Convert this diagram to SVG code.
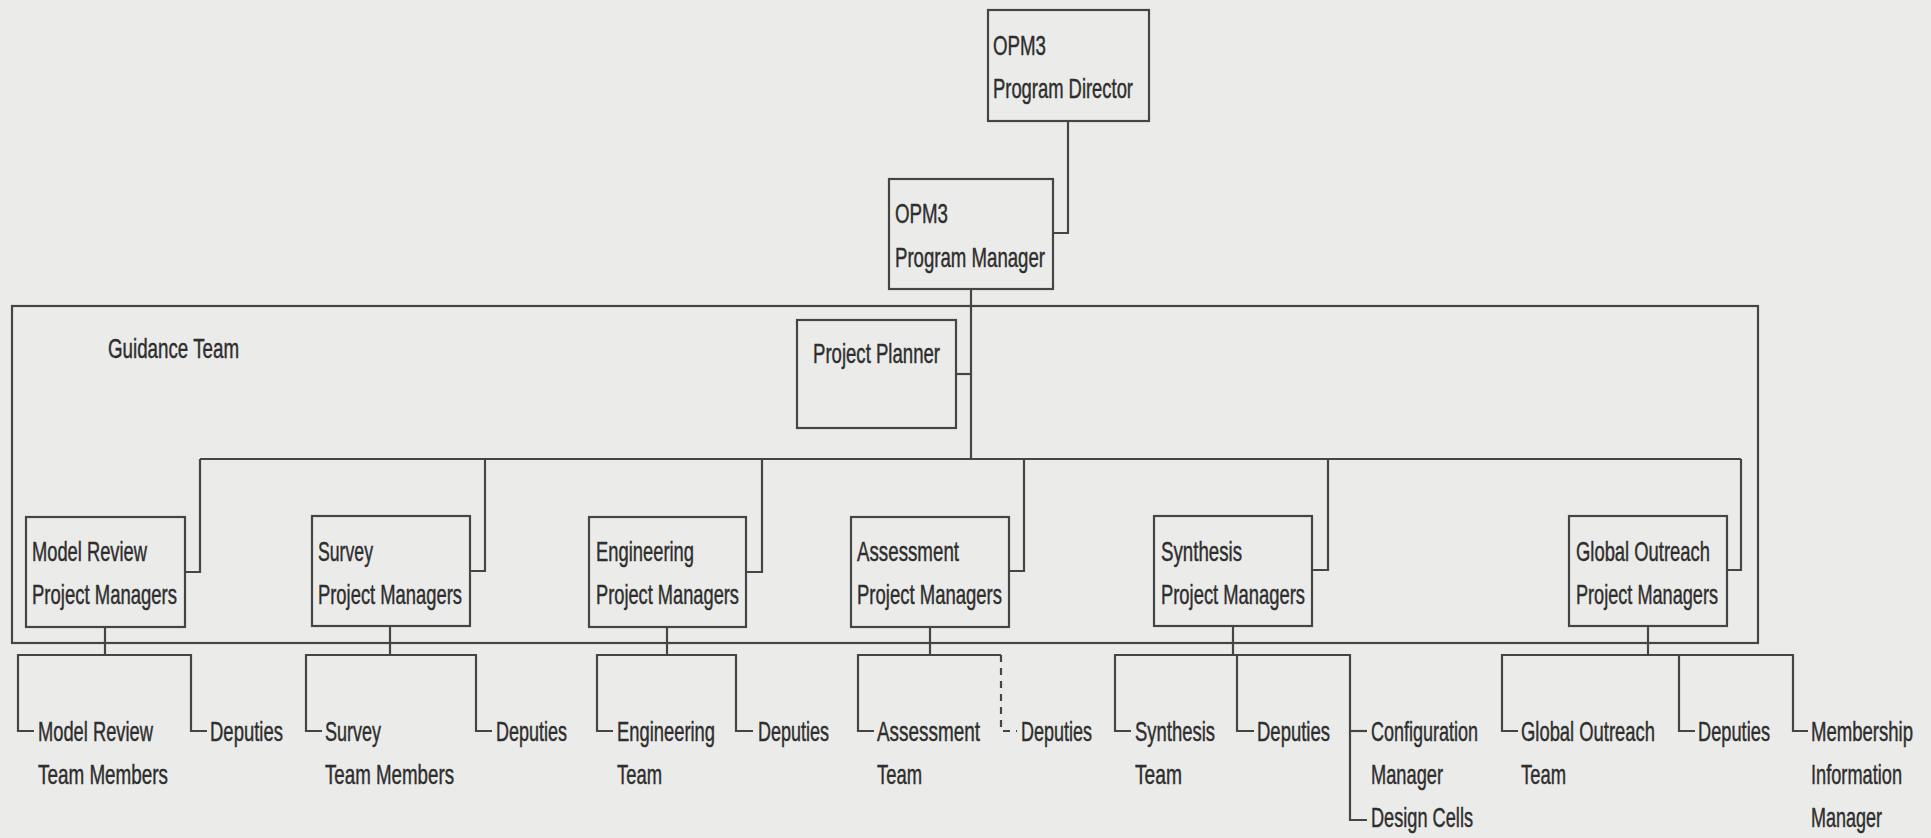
<svg xmlns="http://www.w3.org/2000/svg" width="1931" height="838" viewBox="0 0 1931 838">
<style>
.bg{fill:#ebebe9}
.box{fill:none;stroke:#454545;stroke-width:2.2}
.ln{fill:none;stroke:#454545;stroke-width:2.2}
.dash{fill:none;stroke:#454545;stroke-width:2.2;stroke-dasharray:7 6}
.t{font-family:"Liberation Sans Narrow","Liberation Sans",Arial,sans-serif;font-size:28px;fill:#2e2e2e;stroke:#2e2e2e;stroke-width:0.45}
</style>
<rect class="bg" x="0" y="0" width="1931" height="838"/>
<g id="connectors">
<path class="ln" d="M1068 121 V233 H1053"/>
<path class="ln" d="M971 289 V459"/>
<path class="ln" d="M956 374 H971"/>
<path class="ln" d="M200 459 H1741"/>
<path class="ln" d="M200 459 V572 H185"/>
<path class="ln" d="M485 459 V571 H470"/>
<path class="ln" d="M762 459 V572 H746"/>
<path class="ln" d="M1024 459 V571 H1009"/>
<path class="ln" d="M1328 459 V570 H1312"/>
<path class="ln" d="M1741 459 V570 H1727"/>
<path class="ln" d="M105 627 V655"/>
<path class="ln" d="M34 731 H18 V655 H191 V731 H207"/>
<path class="ln" d="M390 626 V655"/>
<path class="ln" d="M322 731 H306 V655 H476 V731 H492"/>
<path class="ln" d="M667 627 V655"/>
<path class="ln" d="M613 731 H597 V655 H736 V731 H753"/>
<path class="ln" d="M930 627 V655"/>
<path class="ln" d="M874 731 H858 V655 H1001"/>
<path class="dash" d="M1001 655 V731 H1017"/>
<path class="ln" d="M1233 626 V655"/>
<path class="ln" d="M1131 731 H1115 V655 H1350 V820 H1367"/>
<path class="ln" d="M1237 655 V731 H1254"/>
<path class="ln" d="M1350 731 H1367"/>
<path class="ln" d="M1648 626 V655"/>
<path class="ln" d="M1518 731 H1502 V655 H1793 V731 H1808"/>
<path class="ln" d="M1679 655 V731 H1695"/>
</g>
<g id="guidance-team">
<rect class="box" x="12" y="306" width="1746" height="337"/>
<text class="t" x="108" y="358" textLength="131" lengthAdjust="spacingAndGlyphs">Guidance Team</text>
</g>
<g id="program-director">
<rect class="box" x="988" y="10" width="161" height="111"/>
<text class="t" x="993" y="55" textLength="53" lengthAdjust="spacingAndGlyphs">OPM3</text>
<text class="t" x="993" y="98" textLength="140" lengthAdjust="spacingAndGlyphs">Program Director</text>
</g>
<g id="program-manager">
<rect class="box" x="889" y="179" width="164" height="110"/>
<text class="t" x="895" y="223" textLength="53" lengthAdjust="spacingAndGlyphs">OPM3</text>
<text class="t" x="895" y="267" textLength="150" lengthAdjust="spacingAndGlyphs">Program Manager</text>
</g>
<g id="project-planner">
<rect class="box" x="797" y="320" width="159" height="108"/>
<text class="t" x="813" y="363" textLength="127" lengthAdjust="spacingAndGlyphs">Project Planner</text>
</g>
<g id="model-review-pm">
<rect class="box" x="26" y="517" width="159" height="110"/>
<text class="t" x="32" y="561" textLength="115" lengthAdjust="spacingAndGlyphs">Model Review</text>
<text class="t" x="32" y="604" textLength="145" lengthAdjust="spacingAndGlyphs">Project Managers</text>
</g>
<g id="survey-pm">
<rect class="box" x="312" y="516" width="158" height="110"/>
<text class="t" x="318" y="561" textLength="55" lengthAdjust="spacingAndGlyphs">Survey</text>
<text class="t" x="318" y="604" textLength="144" lengthAdjust="spacingAndGlyphs">Project Managers</text>
</g>
<g id="engineering-pm">
<rect class="box" x="589" y="517" width="157" height="110"/>
<text class="t" x="596" y="561" textLength="98" lengthAdjust="spacingAndGlyphs">Engineering</text>
<text class="t" x="596" y="604" textLength="143" lengthAdjust="spacingAndGlyphs">Project Managers</text>
</g>
<g id="assessment-pm">
<rect class="box" x="851" y="517" width="158" height="110"/>
<text class="t" x="857" y="561" textLength="102" lengthAdjust="spacingAndGlyphs">Assessment</text>
<text class="t" x="857" y="604" textLength="145" lengthAdjust="spacingAndGlyphs">Project Managers</text>
</g>
<g id="synthesis-pm">
<rect class="box" x="1154" y="516" width="158" height="110"/>
<text class="t" x="1161" y="561" textLength="81" lengthAdjust="spacingAndGlyphs">Synthesis</text>
<text class="t" x="1161" y="604" textLength="144" lengthAdjust="spacingAndGlyphs">Project Managers</text>
</g>
<g id="global-outreach-pm">
<rect class="box" x="1569" y="516" width="158" height="110"/>
<text class="t" x="1576" y="561" textLength="134" lengthAdjust="spacingAndGlyphs">Global Outreach</text>
<text class="t" x="1576" y="604" textLength="142" lengthAdjust="spacingAndGlyphs">Project Managers</text>
</g>
<g id="model-review-team">
<text class="t" x="38" y="741" textLength="115" lengthAdjust="spacingAndGlyphs">Model Review</text>
<text class="t" x="38" y="784" textLength="130" lengthAdjust="spacingAndGlyphs">Team Members</text>
</g>
<g id="model-review-deputies">
<text class="t" x="210" y="741" textLength="73" lengthAdjust="spacingAndGlyphs">Deputies</text>
</g>
<g id="survey-team">
<text class="t" x="325" y="741" textLength="56" lengthAdjust="spacingAndGlyphs">Survey</text>
<text class="t" x="325" y="784" textLength="129" lengthAdjust="spacingAndGlyphs">Team Members</text>
</g>
<g id="survey-deputies">
<text class="t" x="496" y="741" textLength="71" lengthAdjust="spacingAndGlyphs">Deputies</text>
</g>
<g id="engineering-team">
<text class="t" x="617" y="741" textLength="98" lengthAdjust="spacingAndGlyphs">Engineering</text>
<text class="t" x="617" y="784" textLength="45" lengthAdjust="spacingAndGlyphs">Team</text>
</g>
<g id="engineering-deputies">
<text class="t" x="758" y="741" textLength="71" lengthAdjust="spacingAndGlyphs">Deputies</text>
</g>
<g id="assessment-team">
<text class="t" x="877" y="741" textLength="103" lengthAdjust="spacingAndGlyphs">Assessment</text>
<text class="t" x="877" y="784" textLength="45" lengthAdjust="spacingAndGlyphs">Team</text>
</g>
<g id="assessment-deputies">
<text class="t" x="1021" y="741" textLength="71" lengthAdjust="spacingAndGlyphs">Deputies</text>
</g>
<g id="synthesis-team">
<text class="t" x="1135" y="741" textLength="80" lengthAdjust="spacingAndGlyphs">Synthesis</text>
<text class="t" x="1135" y="784" textLength="47" lengthAdjust="spacingAndGlyphs">Team</text>
</g>
<g id="synthesis-deputies">
<text class="t" x="1257" y="741" textLength="73" lengthAdjust="spacingAndGlyphs">Deputies</text>
</g>
<g id="configuration-manager">
<text class="t" x="1371" y="741" textLength="107" lengthAdjust="spacingAndGlyphs">Configuration</text>
<text class="t" x="1371" y="784" textLength="72" lengthAdjust="spacingAndGlyphs">Manager</text>
</g>
<g id="design-cells">
<text class="t" x="1371" y="827" textLength="102" lengthAdjust="spacingAndGlyphs">Design Cells</text>
</g>
<g id="global-outreach-team">
<text class="t" x="1521" y="741" textLength="134" lengthAdjust="spacingAndGlyphs">Global Outreach</text>
<text class="t" x="1521" y="784" textLength="45" lengthAdjust="spacingAndGlyphs">Team</text>
</g>
<g id="global-outreach-deputies">
<text class="t" x="1698" y="741" textLength="72" lengthAdjust="spacingAndGlyphs">Deputies</text>
</g>
<g id="membership-information-manager">
<text class="t" x="1811" y="741" textLength="102" lengthAdjust="spacingAndGlyphs">Membership</text>
<text class="t" x="1811" y="784" textLength="91" lengthAdjust="spacingAndGlyphs">Information</text>
<text class="t" x="1811" y="827" textLength="71" lengthAdjust="spacingAndGlyphs">Manager</text>
</g>
</svg>
